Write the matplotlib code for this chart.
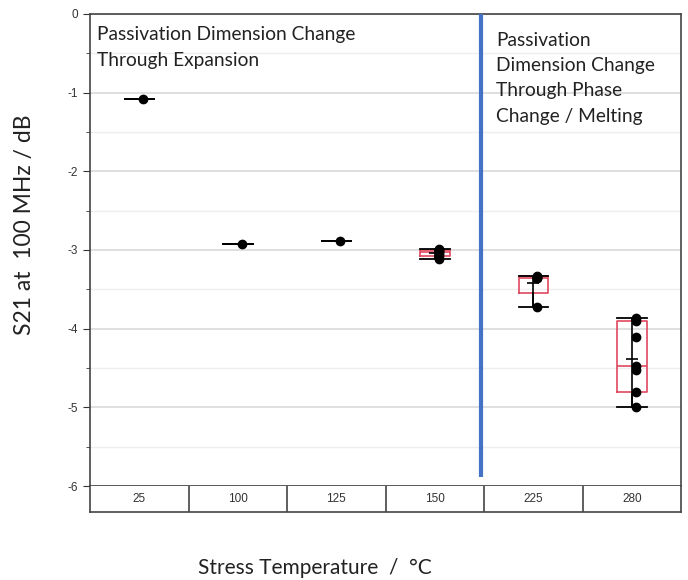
import numpy as np
import matplotlib
matplotlib.use("Agg")
import matplotlib.pyplot as plt

plt.rcParams['axes.unicode_minus'] = False

# S21 at 100 MHz per stress temperature (dB)
temps = ['25', '100', '125', '150', '225', '280']
s21_25 = [-1.08]
s21_100 = [-2.92]
s21_125 = [-2.89]
s21_150 = [-2.99, -3.00, -3.01, -3.03, -3.05, -3.08, -3.11]
s21_225 = [-3.33, -3.34, -3.35, -3.36, -3.73]
s21_280 = [-3.87, -3.90, -4.11, -4.47, -4.53, -4.80, -5.00]
groups = [s21_25, s21_100, s21_125, s21_150, s21_225, s21_280]

txt_font = 'Lato'
fig = plt.figure(figsize=(6.88, 5.80), dpi=100)
ax = fig.add_axes([0.131, 0.162, 0.859, 0.814])

# box stats (JMP style quantiles)
stats = []
for g in groups:
    a = np.array(g)
    q1, q3 = np.percentile(a, [25, 75], method='weibull') if len(a) > 3 else np.percentile(a, [25, 75])
    stats.append(dict(med=np.median(a), q1=q1, q3=q3, whislo=a.min(), whishi=a.max(),
                      mean=a.mean(), fliers=[]))

pos = np.arange(len(groups))
ax.bxp(stats, positions=pos, widths=0.3, showfliers=False, showcaps=True,
       boxprops=dict(color='#e0485f', lw=1.2, zorder=2), medianprops=dict(color='#e0485f', lw=1.2, zorder=2),
       whiskerprops=dict(color='black', lw=1.2, zorder=3), capprops=dict(color='black', lw=1.3, zorder=3),
       capwidths=0.3)

for i, (g, st) in enumerate(zip(groups, stats)):
    ax.vlines(i, st['whislo'], st['whishi'], color='black', lw=1.2, zorder=3)
    if len(g) > 1:
        ax.hlines(st['mean'], i - 0.06, i + 0.06, color='black', lw=1.2, zorder=3)
    ax.plot([i + 0.04] * len(g), g, 'o', color='black', ms=6, zorder=4)

ax.vlines(3.47, -5.88, 0, color='#4472c4', lw=3, zorder=5)

ax.set_xlim(-0.5, 5.5)
ax.set_ylim(-6, 0)
ax.set_xticks([])
ax.set_yticks(np.arange(-6, 1, 1))
ax.set_yticks(np.arange(-5.5, 0, 1), minor=True)
ax.tick_params(axis='y', which='major', length=5, labelsize=8.5, colors='#333333')
ax.tick_params(axis='y', which='minor', length=3, colors='#333333')
for lab in ax.get_yticklabels():
    lab.set_fontfamily('Liberation Sans')
ax.grid(axis='y', which='major', color='#d9d9d9', lw=1.2)
ax.grid(axis='y', which='minor', color='#eeeeee', lw=1.0)
ax.set_axisbelow(True)
for sp in ax.spines.values():
    sp.set_color('#444444')
    sp.set_linewidth(1.2)

ax.text(-0.43, -0.155, 'Passivation Dimension Change\nThrough Expansion', fontsize=13.8,
        family=txt_font, color='#222222', va='top', ha='left', linespacing=1.6)
ax.text(3.62, -0.225, 'Passivation\nDimension Change\nThrough Phase\nChange / Melting', fontsize=13.8,
        family=txt_font, color='#222222', va='top', ha='left', linespacing=1.6)

# category table under the axis
tab = fig.add_axes([0.131, 0.117, 0.859, 0.045])
tab.set_xlim(-0.5, 5.5)
tab.set_ylim(0, 1)
tab.set_xticks([])
tab.set_yticks([])
tab.spines['top'].set_visible(False)
for s in ['left', 'right', 'bottom']:
    tab.spines[s].set_color('#444444')
    tab.spines[s].set_linewidth(1.2)
tab.vlines(np.arange(0.5, 5.5, 1), 0, 1, color='#444444', lw=1.2)
for i, t in enumerate(temps):
    tab.text(i, 0.5, t, ha='center', va='center', fontsize=8.5, family='Liberation Sans', color='#333333')

fig.text(0.036, 0.612, 'S21 at  100 MHz / dB', rotation=90, ha='center', va='center',
         fontsize=16.5, family=txt_font, color='#222222')
fig.text(0.458, 0.02, 'Stress Temperature  /  °C', ha='center', va='center',
         fontsize=15, family=txt_font, color='#222222')

fig.savefig('out.png', dpi=100)
